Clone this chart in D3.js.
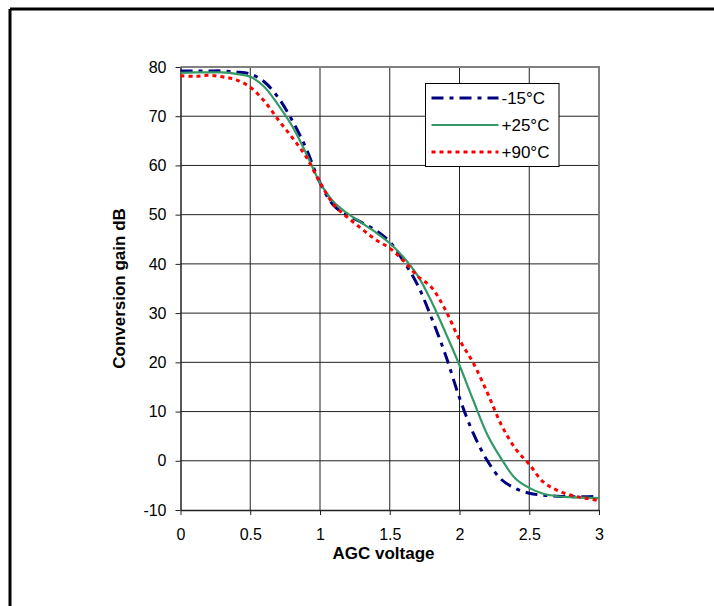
<!DOCTYPE html>
<html>
<head>
<meta charset="utf-8">
<script src="https://cdn.jsdelivr.net/npm/d3@7"></script>
<style>
    body { margin: 0; background: #fff; }
    text { font-family: "Liberation Sans", Arial, sans-serif; }
</style>
</head>
<body>
<div id="my_dataviz"></div>
<script>
// AGC voltage (V)
var agcVoltage = [0, 0.1, 0.2, 0.3, 0.4, 0.5, 0.6, 0.7, 0.8, 0.9, 1.0,
    1.1, 1.2, 1.3, 1.4, 1.5, 1.6, 1.7, 1.8, 1.9, 2.0,
    2.1, 2.2, 2.3, 2.4, 2.5, 2.6, 2.7, 2.8, 2.9, 3.0];

// Conversion gain (dB) per temperature
var gainMinus15 = [79.2, 79.2, 79.2, 79.2, 79.0, 78.6, 77.0, 73.8, 69.2, 63.5, 56.5,
    51.8, 49.8, 48.4, 46.8, 44.5, 40.5, 35.7, 29.0, 21.5, 12.8,
    5.5, 0.0, -3.8, -5.6, -6.6, -7.0, -7.2, -7.3, -7.3, -7.2];
var gainPlus25 = [78.8, 78.9, 78.9, 78.9, 78.6, 78.0, 76.0, 72.3, 68.0, 62.5, 56.5,
    52.5, 50.2, 48.3, 46.4, 44.2, 41.3, 37.6, 32.3, 26.0, 19.4,
    12.2, 5.3, 0.4, -3.6, -5.5, -6.7, -7.2, -7.4, -7.5, -7.6];
var gainPlus90 = [78.2, 78.1, 78.3, 78.0, 77.4, 75.9, 73.1, 69.3, 65.7, 61.8, 56.5,
    52.0, 49.4, 47.1, 44.9, 43.2, 40.6, 37.5, 35.2, 30.6, 24.6,
    19.8, 13.8, 7.3, 2.5, -0.7, -4.3, -6.0, -7.0, -7.6, -8.1];

var seriesNames = ["-15°C", "+25°C", "+90°C"];
var xTicks = [0, 0.5, 1, 1.5, 2, 2.5, 3];
var yTicks = [-10, 0, 10, 20, 30, 40, 50, 60, 70, 80];

// 1) Set up canvas
var fullWidth = 714, fullHeight = 606;
var margin = { top: 67, right: 115, bottom: 96, left: 180.5 },
    width = fullWidth - margin.left - margin.right,
    height = fullHeight - margin.top - margin.bottom;

var root = d3.select("#my_dataviz")
    .append("svg")
    .attr("width", fullWidth)
    .attr("height", fullHeight);

// outer frame (only top and left edges are in view)
root.append("line").attr("x1", 10).attr("x2", fullWidth).attr("y1", 9).attr("y2", 9)
    .attr("stroke", "#000").attr("stroke-width", 3);
root.append("line").attr("x1", 10).attr("x2", 10).attr("y1", 9).attr("y2", fullHeight)
    .attr("stroke", "#000").attr("stroke-width", 3);

var svg = root.append("g")
    .attr("transform", "translate(" + margin.left + "," + margin.top + ")");

// 2) Scales
var x = d3.scaleLinear().domain([0, 3]).range([0, width]);
var y = d3.scaleLinear().domain([-10, 80]).range([height, 0]);

// gridlines
svg.append("g")
    .selectAll("line")
    .data(yTicks.slice(1, -1))
    .enter()
    .append("line")
    .attr("x1", 0).attr("x2", width)
    .attr("y1", d => y(d)).attr("y2", d => y(d))
    .attr("stroke", "#222").attr("stroke-width", 1);
svg.append("g")
    .selectAll("line")
    .data(xTicks.slice(1, -1))
    .enter()
    .append("line")
    .attr("y1", 0).attr("y2", height)
    .attr("x1", d => x(d)).attr("x2", d => x(d))
    .attr("stroke", "#222").attr("stroke-width", 1);

// plot border top / right
svg.append("path")
    .attr("d", "M0," + y(80) + "H" + x(3) + "V" + y(-10))
    .attr("fill", "none")
    .attr("stroke", "#808080")
    .attr("stroke-width", 2);

// 3) Axes (plain hyphen for negatives, like the original)
var fmt = function (d) { return String(d); };
var xAxis = svg.append("g")
    .attr("transform", "translate(0," + height + ")")
    .call(d3.axisBottom(x).tickValues(xTicks).tickSize(5).tickSizeOuter(0).tickPadding(14)
        .tickFormat(fmt));
var yAxis = svg.append("g")
    .call(d3.axisLeft(y).tickValues(yTicks).tickSize(5).tickSizeOuter(0).tickPadding(9)
        .tickFormat(fmt));

[xAxis, yAxis].forEach(function (a) {
    a.select(".domain").attr("stroke", "#222").attr("stroke-width", 1.5);
    a.selectAll(".tick line").attr("stroke", "#222");
    a.selectAll(".tick text")
        .style("font-family", "'Liberation Sans', Arial, sans-serif")
        .style("font-size", "16px")
        .attr("fill", "#000");
});

// axis labels
svg.append("text")
    .attr("text-anchor", "middle")
    .attr("x", 203)
    .attr("y", height + 49)
    .text("AGC voltage")
    .style("font-size", "17px")
    .style("font-weight", "bold");
svg.append("text")
    .attr("text-anchor", "middle")
    .attr("transform", "translate(-56," + (height / 2) + ") rotate(-90)")
    .text("Conversion gain dB")
    .style("font-size", "17px")
    .style("font-weight", "bold");

// 4) Lines
var series = [
    { name: seriesNames[0], values: gainMinus15, color: "#000080", width: 3, dash: "12,6,4,6" },
    { name: seriesNames[1], values: gainPlus25, color: "#339966", width: 2.2, dash: null },
    { name: seriesNames[2], values: gainPlus90, color: "#ff0000", width: 3, dash: "4,4" }
];

var line = d3.line()
    .x(function (d) { return x(d[0]) })
    .y(function (d) { return y(d[1]) })
    .curve(d3.curveCatmullRom.alpha(0.5));

series.forEach(function (s) {
    svg.append("path")
        .datum(agcVoltage.map((v, i) => [v, s.values[i]]))
        .attr("fill", "none")
        .attr("stroke", s.color)
        .attr("stroke-width", s.width)
        .attr("stroke-dasharray", s.dash)
        .attr("d", line);
});

// 5) Legend
var legend = root.append("g").attr("transform", "translate(425.5,83.5)");
legend.append("rect")
    .attr("width", 133.5).attr("height", 83)
    .attr("fill", "#fff").attr("stroke", "#000").attr("stroke-width", 1);
series.forEach(function (s, i) {
    var ly = 14.5 + i * 27;
    legend.append("line")
        .attr("x1", 6).attr("x2", 73).attr("y1", ly).attr("y2", ly)
        .attr("stroke", s.color)
        .attr("stroke-width", s.width)
        .attr("stroke-dasharray", s.dash);
    legend.append("text")
        .attr("x", 76).attr("y", ly)
        .attr("dominant-baseline", "central")
        .text(s.name)
        .style("font-size", "17px");
});
</script>
</body>
</html>
